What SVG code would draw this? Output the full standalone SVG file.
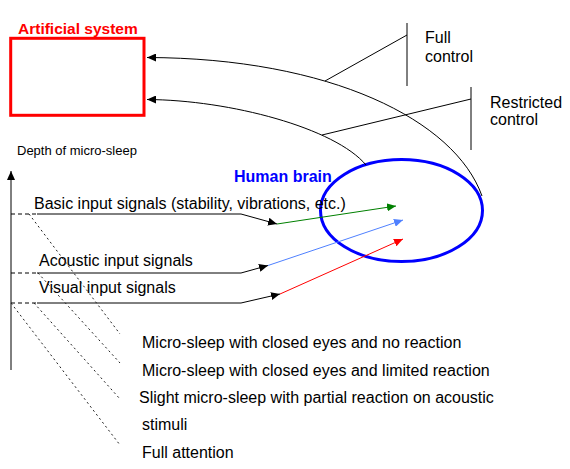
<svg xmlns="http://www.w3.org/2000/svg" width="570" height="469" viewBox="0 0 570 469">
<style>
text{font-family:"Liberation Sans",Arial,sans-serif;fill:#000}
.t16{font-size:16px}
.t13{font-size:13px}
.bold{font-weight:bold}
.ln{stroke:#000;stroke-width:1;fill:none}
.dash{stroke:#000;stroke-width:1;stroke-dasharray:4,3;fill:none}
.diag{stroke:#222;stroke-width:1;stroke-dasharray:2,3;fill:none}
</style>
<defs>
<marker id="ab" markerUnits="userSpaceOnUse" markerWidth="10" markerHeight="8" refX="9" refY="4" orient="auto"><path d="M0,0 L9,4 L0,8 z" fill="#000"/></marker>
<marker id="ag" markerUnits="userSpaceOnUse" markerWidth="10" markerHeight="8" refX="9" refY="4" orient="auto"><path d="M0,0 L9,4 L0,8 z" fill="#008000"/></marker>
<marker id="abl" markerUnits="userSpaceOnUse" markerWidth="10" markerHeight="8" refX="9" refY="4" orient="auto"><path d="M0,0 L9,4 L0,8 z" fill="#4f80ff"/></marker>
<marker id="ar" markerUnits="userSpaceOnUse" markerWidth="10" markerHeight="8" refX="9" refY="4" orient="auto"><path d="M0,0 L9,4 L0,8 z" fill="#ff0000"/></marker>
</defs>

<g id="artificial-system">
<rect x="10.7" y="38.3" width="133.3" height="77" fill="none" stroke="#ff0000" stroke-width="3"/>
<text x="18" y="34" class="bold" font-size="15.5" style="fill:#ff0000">Artificial system</text>
</g>

<g id="human-brain">
<ellipse cx="401.5" cy="210.5" rx="81" ry="51" fill="none" stroke="#0000ff" stroke-width="3"/>
<text x="234" y="181.5" class="t16 bold" style="fill:#0000ff">Human brain</text>
</g>

<g id="full-control">
<line x1="407" y1="23" x2="407" y2="86" class="ln"/>
<text x="425" y="43.3" class="t16">Full</text>
<text x="425" y="61.7" class="t16">control</text>
</g>

<g id="restricted-control">
<line x1="471" y1="87" x2="471" y2="150" class="ln"/>
<text x="490" y="107.7" class="t16">Restricted</text>
<text x="490" y="125" class="t16">control</text>
</g>

<g id="depth-axis">
<text x="17" y="155" class="t13">Depth of micro-sleep</text>
<line x1="11" y1="370" x2="11" y2="171" class="ln" marker-end="url(#ab)"/>
</g>

<g id="basic-input">
<text x="34" y="209" class="t16">Basic input signals (stability, vibrations, etc.)</text>
</g>
<g id="acoustic-input">
<text x="39" y="266" class="t16">Acoustic input signals</text>
</g>
<g id="visual-input">
<text x="39" y="292.5" class="t16">Visual input signals</text>
</g>

<g id="states">
<text x="142" y="348" class="t16">Micro-sleep with closed eyes and no reaction</text>
<text x="142" y="376" class="t16">Micro-sleep with closed eyes and limited reaction</text>
<text x="139" y="403" class="t16">Slight micro-sleep with partial reaction on acoustic</text>
<text x="142" y="430" class="t16">stimuli</text>
<text x="142" y="458" class="t16">Full attention</text>
</g>

<g id="connectors">
<path d="M482,196 C455,120 330,58 147,57.5" class="ln" marker-end="url(#ab)"/>
<path d="M366,165 C335,128 230,100 147,99.5" class="ln" marker-end="url(#ab)"/>
<line x1="407" y1="35" x2="325" y2="81" class="ln"/>
<line x1="471" y1="99" x2="322" y2="135" class="ln"/>

<line x1="11" y1="214" x2="37" y2="214" class="dash"/>
<line x1="37" y1="214" x2="241" y2="214" class="ln"/>
<line x1="11" y1="273" x2="37" y2="273" class="dash"/>
<line x1="37" y1="273" x2="241" y2="273" class="ln"/>
<line x1="11" y1="303" x2="37" y2="303" class="dash"/>
<line x1="37" y1="303" x2="241" y2="303" class="ln"/>

<line x1="241" y1="214" x2="277" y2="224" class="ln" marker-end="url(#ab)"/>
<line x1="241" y1="273" x2="268" y2="265.5" class="ln" marker-end="url(#ab)"/>
<line x1="241" y1="303" x2="280" y2="294" class="ln" marker-end="url(#ab)"/>

<line x1="277" y1="224" x2="396" y2="206" stroke="#008000" stroke-width="1" marker-end="url(#ag)"/>
<line x1="268" y1="265.5" x2="403" y2="220" stroke="#4f80ff" stroke-width="1" marker-end="url(#abl)"/>
<line x1="280" y1="294" x2="403" y2="239" stroke="#ff0000" stroke-width="1" marker-end="url(#ar)"/>

<line x1="29" y1="214" x2="120" y2="334" class="diag"/>
<line x1="38" y1="273" x2="120" y2="363" class="diag"/>
<line x1="34" y1="303" x2="120" y2="399" class="diag"/>
<line x1="11" y1="303" x2="120" y2="445" class="diag"/>
</g>
</svg>
